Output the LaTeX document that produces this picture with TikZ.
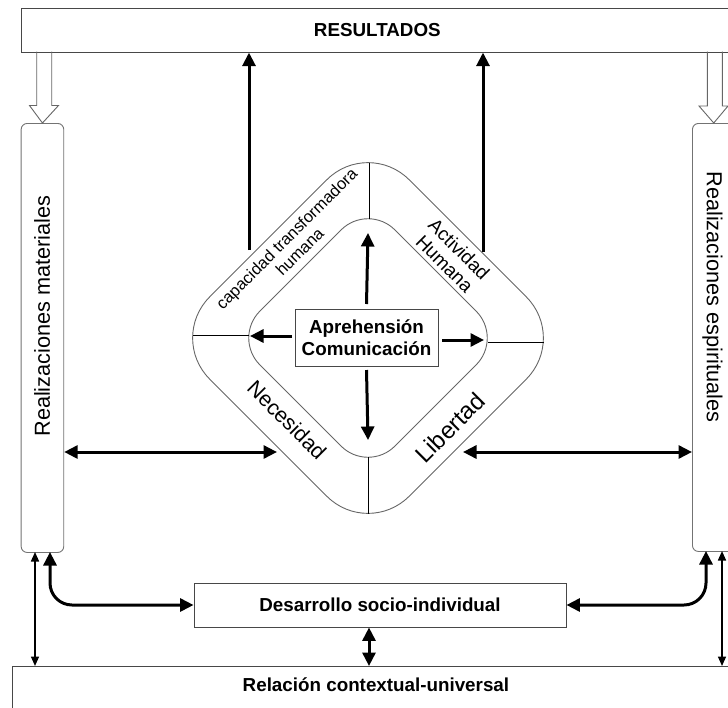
\documentclass[tikz,border=0pt]{standalone}
\usepackage{fontspec}
\setmainfont{Liberation Sans}
\usetikzlibrary{arrows.meta,calc}
\begin{document}
\begin{tikzpicture}[x=1pt,y=-1pt,
  box/.style={draw=black!72, line width=0.9pt, fill=white, inner sep=0pt},
  sidebox/.style={draw=black!55, line width=0.9pt, fill=white, inner sep=0pt, rounded corners=6pt},
  bl/.style={font=\fontsize{18.8}{21.5}\selectfont\bfseries},
  arr/.style={line width=3pt, -{Triangle[length=13.5pt,width=13pt]}},
  darr/.style={line width=3pt, {Triangle[length=13.5pt,width=13pt]}-{Triangle[length=13.5pt,width=13pt]}},
  tarr/.style={line width=1.6pt, {Triangle[length=9.5pt,width=8pt]}-{Triangle[length=9.5pt,width=8pt]}},
  hollow/.style={draw=black!60, line width=0.9pt},
  ring/.style={draw=black!60, line width=0.9pt},
  lab/.style={inner sep=0pt, align=center}
]
\path[use as bounding box] (0,0) rectangle (728,707);
\clip (0,0) rectangle (728,707);

% top box
\node[box, bl, minimum width=712.3pt, minimum height=43.4pt, anchor=north west] (res) at (20.7,8.3) {RESULTADOS};

% side boxes
\node[sidebox, minimum width=42.6pt, minimum height=429pt, anchor=north west] (mat) at (20.7,123) {};
\node[lab, rotate=90, font=\fontsize{21.7}{24}\selectfont] (matl) at (42,316) {Realizaciones materiales};
\node[sidebox, minimum width=42.6pt, minimum height=428pt, anchor=north west] (esp) at (692,123) {};
\node[lab, rotate=-90, font=\fontsize{21.7}{24}\selectfont] (espl) at (712.5,297) {Realizaciones espirituales};

% hollow arrows
\draw[hollow] (36.7,51.7) -- (36.7,105.5) -- (29.5,105.5) -- (mat.north) -- (58.5,105.5) -- (51.7,105.5) -- (51.7,51.7);
\draw[hollow] (707.3,51.7) -- (707.3,106) -- (699,106) -- (esp.north) -- (728,106) -- (722.3,106) -- (722.3,51.7);

% diamond ring
\draw[ring, rounded corners=58pt] (368,138.6) -- (567.4,338) -- (368,537.4) -- (168.6,338) -- cycle;
\draw[ring, rounded corners=38pt] (368,203) -- (503,338) -- (368,473) -- (233,338) -- cycle;
\draw[line width=0.7pt] (369,162.5) -- (369,218.5);
\draw[line width=0.7pt] (368,456.5) -- (368,513.5);
\draw[line width=0.7pt] (192.5,335) -- (249,335);
\draw[line width=0.7pt] (487.5,342) -- (543.5,342);

% ring labels
\node[lab, rotate=45, font=\fontsize{16.5}{18.5}\selectfont] (cap) at (293,245) {capacidad transformadora\\humana};
\node[lab, rotate=-45, font=\fontsize{19}{20.5}\selectfont] (act) at (452,256.5) {Actividad\\Humana};
\node[lab, rotate=-45, font=\fontsize{21.4}{24}\selectfont] (nec) at (287,420) {Necesidad};
\node[lab, rotate=45, font=\fontsize{24}{26}\selectfont] (lib) at (450,427.5) {Libertad};

% center box
\node[box, bl, align=center, minimum width=143pt, minimum height=57pt] (apc) at (366.5,337.5) {Aprehensi\'on\\Comunicaci\'on};

% inner arrows
\coordinate (iu) at (368,233);
\coordinate (id) at (368,440);
\coordinate (il) at (250,336);
\coordinate (ir) at (484,340);
\draw[arr] (apc.north |- 0,304) -- (iu);
\draw[arr] (apc.south |- 0,370) -- (id);
\draw[arr] (292,336) -- (il);
\draw[arr] (442,340) -- (ir);

% up arrows to results
\coordinate (u1) at (249,250);
\coordinate (u2) at (483,252);
\draw[arr] (u1) -- (u1 |- res.south);
\draw[arr] (u2) -- (u2 |- res.south);

% horizontal double arrows
\coordinate (nl) at (277,452);
\coordinate (nr) at (463,452);
\draw[darr] (nl -| mat.east) -- (nl);
\draw[darr] (nr) -- (nr -| esp.west);

% bottom boxes
\node[box, bl, minimum width=372pt, minimum height=44pt] (des) at (380,605) {Desarrollo socio-individual};
\node[box, bl, minimum width=727pt, minimum height=45pt, anchor=north west, text depth=8pt] (rel) at (12,666) {Relaci\'on contextual-universal};

% bottom connectors
\coordinate (a1) at (35,552);
\coordinate (a2) at (50,552);
\coordinate (a3) at (706,551);
\coordinate (a4) at (722,551);
\coordinate (a5) at (369,0);
\draw[tarr] (a1) -- (a1 |- rel.north);
\draw[tarr] (a4) -- (a4 |- rel.north);
\draw[darr, rounded corners=22pt] (a2) -- (a2 |- des.west) -- (des.west);
\draw[darr, rounded corners=22pt] (des.east) -- (des.east -| a3) -- (a3);
\draw[darr] (des.south -| a5) -- (rel.north -| a5);
\end{tikzpicture}
\end{document}
